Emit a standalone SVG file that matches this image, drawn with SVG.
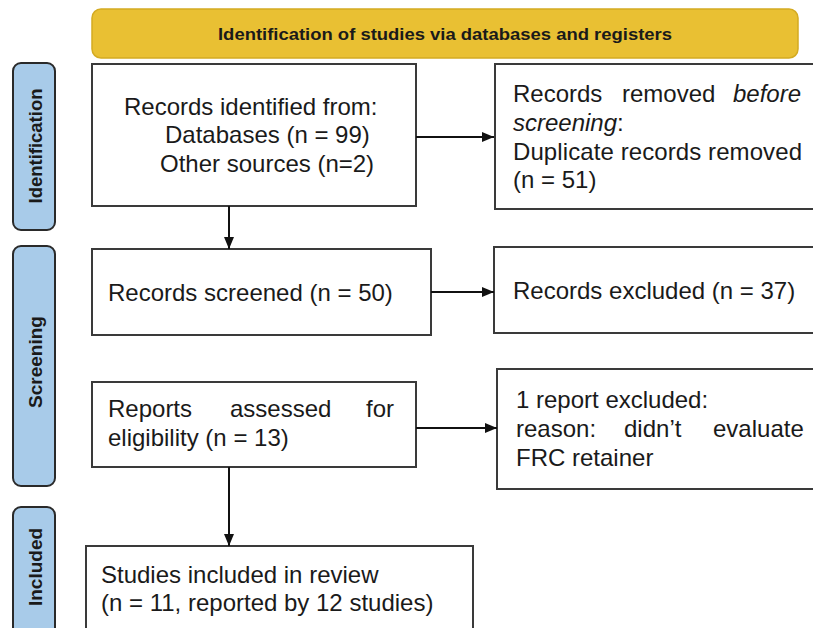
<svg xmlns="http://www.w3.org/2000/svg" width="813" height="628" viewBox="0 0 813 628">
<defs>
<marker id="arr" markerWidth="12" markerHeight="10" refX="12" refY="5" orient="auto" markerUnits="userSpaceOnUse">
<path d="M0,0 L12,5 L0,10 Z" fill="#111"/>
</marker>
<style>
.box{fill:#fff;stroke:#3a3a3a;stroke-width:2}
.tab{fill:#a8cbe9;stroke:#2a2a2a;stroke-width:2}
.banner{fill:#e9c033;stroke:#d4ab22;stroke-width:1.5}
.t{font-family:"Liberation Sans",Arial,sans-serif;font-size:24px;fill:#1a1a1a}
.it{font-style:italic}
.tabt{font-family:"Liberation Sans",Arial,sans-serif;font-size:19px;font-weight:bold;fill:#1a1a1a;text-anchor:middle}
.bt{font-family:"Liberation Sans",Arial,sans-serif;font-size:17px;font-weight:bold;fill:#1a1a1a;text-anchor:middle}
.conn{stroke:#111;stroke-width:2;fill:none;marker-end:url(#arr)}
</style>
</defs>
<rect width="813" height="628" fill="#fff"/>

<g id="banner">
<rect class="banner" x="92" y="9" width="706" height="49" rx="9"/>
<text class="bt" x="445" y="40" textLength="454" lengthAdjust="spacingAndGlyphs">Identification of studies via databases and registers</text>
</g>

<g id="tab-identification">
<rect class="tab" x="13" y="63" width="42" height="167" rx="8"/>
<text class="tabt" transform="translate(41.5,146) rotate(-90)" textLength="115" lengthAdjust="spacingAndGlyphs">Identification</text>
</g>
<g id="tab-screening">
<rect class="tab" x="13" y="246" width="42" height="240" rx="8"/>
<text class="tabt" transform="translate(41.5,362) rotate(-90)">Screening</text>
</g>
<g id="tab-included">
<rect class="tab" x="13" y="507" width="42" height="140" rx="8"/>
<text class="tabt" transform="translate(41.5,567) rotate(-90)">Included</text>
</g>

<g id="records-identified">
<rect class="box" x="92" y="64" width="324" height="142"/>
<text class="t" x="124" y="115">Records identified from:</text>
<text class="t" x="165" y="143">Databases (n = 99)</text>
<text class="t" x="160" y="172">Other sources (n=2)</text>
</g>

<g id="records-removed">
<rect class="box" x="495" y="64" width="330" height="145"/>
<text class="t" y="102"><tspan x="513">Records</tspan><tspan x="622">removed</tspan><tspan x="733" class="it">before</tspan></text>
<text class="t" x="513" y="131"><tspan class="it">screening</tspan>:</text>
<text class="t" x="513" y="160" textLength="289" lengthAdjust="spacing">Duplicate records removed</text>
<text class="t" x="513" y="188">(n = 51)</text>
</g>

<g id="records-screened">
<rect class="box" x="92" y="249" width="339" height="86"/>
<text class="t" x="108" y="301">Records screened (n = 50)</text>
</g>

<g id="records-excluded">
<rect class="box" x="494" y="247" width="330" height="86"/>
<text class="t" x="513" y="299">Records excluded (n = 37)</text>
</g>

<g id="reports-assessed">
<rect class="box" x="92" y="382" width="324" height="85"/>
<text class="t" y="417"><tspan x="108">Reports</tspan><tspan x="230">assessed</tspan><tspan x="366">for</tspan></text>
<text class="t" x="108" y="446">eligibility (n = 13)</text>
</g>

<g id="report-excluded">
<rect class="box" x="497" y="369" width="330" height="120"/>
<text class="t" x="516" y="408">1 report excluded:</text>
<text class="t" y="437"><tspan x="516">reason:</tspan><tspan x="624">didn’t</tspan><tspan x="713">evaluate</tspan></text>
<text class="t" x="516" y="466">FRC retainer</text>
</g>

<g id="studies-included">
<rect class="box" x="86" y="546" width="387" height="100"/>
<text class="t" x="101" y="583">Studies included in review</text>
<text class="t" x="101" y="611">(n = 11, reported by 12 studies)</text>
</g>

<g id="connectors">
<line class="conn" x1="416" y1="137" x2="494" y2="137"/>
<line class="conn" x1="229" y1="206" x2="229" y2="249"/>
<line class="conn" x1="431" y1="292" x2="494" y2="292"/>
<line class="conn" x1="416" y1="428" x2="497" y2="428"/>
<line class="conn" x1="229" y1="467" x2="229" y2="546"/>
</g>
</svg>
